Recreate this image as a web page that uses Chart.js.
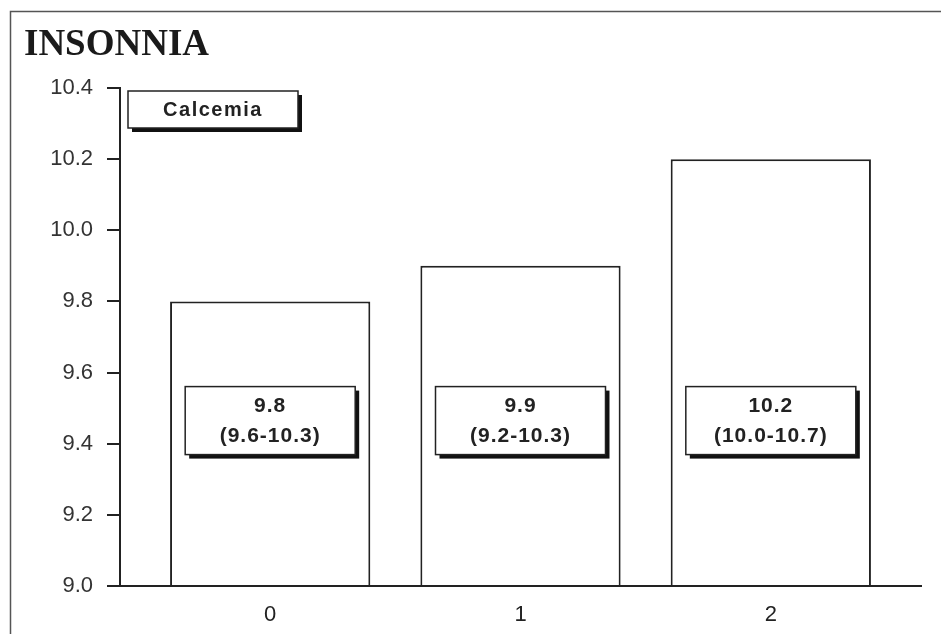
<!DOCTYPE html>
<html>
<head>
<meta charset="utf-8">
<script src="https://cdn.jsdelivr.net/npm/chart.js@4.4.0/dist/chart.umd.min.js"></script>
<style>
  html, body { margin: 0; padding: 0; background: #fff; }
  #c { display: block; }
</style>
</head>
<body>
<canvas id="c" width="941" height="634"></canvas>
<script>
const titleText = 'INSONNIA';
const seriesLabel = 'Calcemia';
const categories = ['0', '1', '2'];
const values = [9.8, 9.9, 10.2];
const ranges = ['(9.6-10.3)', '(9.2-10.3)', '(10.0-10.7)'];
const yTicks = [9.0, 9.2, 9.4, 9.6, 9.8, 10.0, 10.2, 10.4];

const INK = '#222';

function drawBox(ctx, x, y, w, h) {
  ctx.save();
  ctx.fillStyle = '#111';
  ctx.fillRect(x + 4, y + 4, w, h);
  ctx.fillStyle = '#fff';
  ctx.fillRect(x, y, w, h);
  ctx.strokeStyle = INK;
  ctx.lineWidth = 1.5;
  ctx.strokeRect(x, y, w, h);
  ctx.restore();
}

const decor = {
  id: 'decor',
  beforeDraw(chart) {
    const ctx = chart.ctx;
    ctx.save();
    ctx.fillStyle = '#fff';
    ctx.fillRect(0, 0, chart.width, chart.height);
    ctx.strokeStyle = '#555';
    ctx.lineWidth = 1.5;
    ctx.beginPath();
    ctx.moveTo(10.5, chart.height);
    ctx.lineTo(10.5, 11.5);
    ctx.lineTo(chart.width, 11.5);
    ctx.stroke();
    ctx.fillStyle = '#1a1a1a';
    ctx.font = 'bold 37px "Liberation Serif", "Times New Roman", serif';
    ctx.textAlign = 'left';
    ctx.textBaseline = 'alphabetic';
    ctx.fillText(titleText, 24, 55);
    ctx.restore();
  },
  afterDraw(chart) {
    const ctx = chart.ctx;
    const xs = chart.scales.x, ys = chart.scales.y;
    const area = chart.chartArea;
    ctx.save();
    // legend box
    const lx = area.left + 8, ly = area.top + 3, lw = 170, lh = 37;
    drawBox(ctx, lx, ly, lw, lh);
    ctx.fillStyle = INK;
    ctx.font = 'bold 20px "Liberation Sans", Arial, sans-serif';
    ctx.letterSpacing = '1.5px';
    ctx.textAlign = 'center';
    ctx.textBaseline = 'middle';
    ctx.fillText(seriesLabel, lx + lw / 2, ly + lh / 2 + 1);
    // value boxes
    const w = 170, h = 68;
    ctx.letterSpacing = '1px';
    values.forEach((v, i) => {
      const cx = xs.getPixelForValue(i);
      const cy = ys.getPixelForValue(9.465);
      const x = cx - w / 2, y = cy - h / 2;
      drawBox(ctx, x, y, w, h);
      ctx.fillStyle = INK;
      ctx.font = 'bold 21px "Liberation Sans", Arial, sans-serif';
      ctx.fillText(v.toFixed(1), cx, cy - 14);
      ctx.fillText(ranges[i], cx, cy + 16);
    });
    ctx.restore();
  }
};

new Chart(document.getElementById('c'), {
  type: 'bar',
  data: {
    datasets: [{
      label: seriesLabel,
      data: values.map((v, i) => ({ x: i, y: v })),
      backgroundColor: '#fff',
      borderColor: INK,
      borderWidth: 2,
      borderSkipped: 'bottom',
      base: 9,
      barPercentage: 0.8,
      categoryPercentage: 1.0
    }]
  },
  options: {
    responsive: false,
    animation: false,
    devicePixelRatio: 1,
    layout: { padding: { top: 88, right: 20, left: 0, bottom: 0 } },
    plugins: { legend: { display: false }, tooltip: { enabled: false } },
    scales: {
      x: {
        type: 'linear',
        offset: false,
        min: -0.6,
        max: 2.6,
        afterBuildTicks(s) { s.ticks = categories.map((c, i) => ({ value: i })); },
        afterFit(s) { s.height = 48; },
        grid: { display: false, drawTicks: false, offset: false },
        border: { display: true, color: INK, width: 2 },
        ticks: {
          padding: 16,
          color: INK,
          font: { family: '"Liberation Sans", Arial, sans-serif', size: 22 },
          callback: (v) => categories[v]
        }
      },
      y: {
        min: 9.0,
        max: 10.4,
        afterBuildTicks(s) { s.ticks = yTicks.map(v => ({ value: v })); },
        afterFit(s) { s.width = 120; },
        grid: { drawOnChartArea: false, drawTicks: true, tickLength: 13, color: INK, lineWidth: 2 },
        border: { display: true, color: INK, width: 2 },
        ticks: {
          padding: 14,
          color: '#333',
          font: { family: '"Liberation Sans", Arial, sans-serif', size: 22 },
          callback: (v) => Number(v).toFixed(1)
        }
      }
    }
  },
  plugins: [decor]
});
</script>
</body>
</html>
